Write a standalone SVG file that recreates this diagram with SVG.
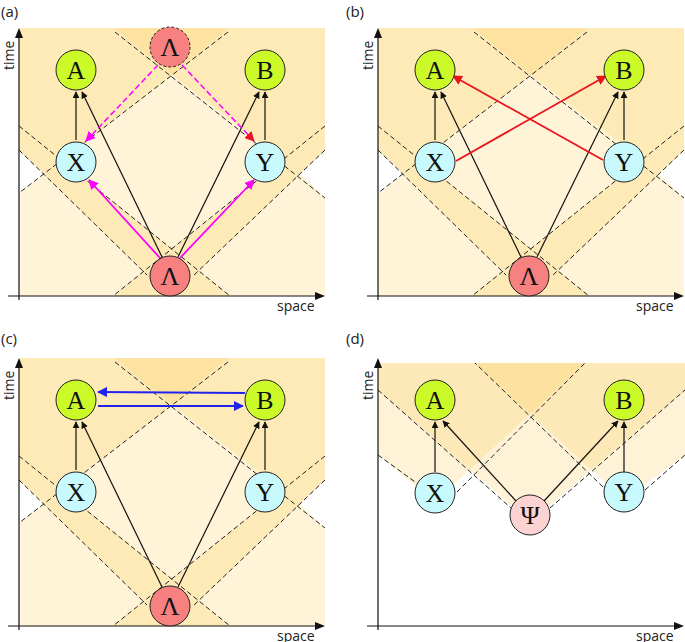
<svg xmlns="http://www.w3.org/2000/svg" width="685" height="642" viewBox="0 0 685 642">
<style>
.lbl{font-family:"Open Sans","Liberation Sans",sans-serif;font-size:15px;fill:#222}
.ax{font-family:"Open Sans","Liberation Sans",sans-serif;font-size:14px;fill:#222}
.nt{font-family:"Liberation Serif",serif;font-size:26px;text-anchor:middle;fill:#111}
.dash{stroke:#222;stroke-width:1;stroke-dasharray:5,3;fill:none}
.axis{stroke:#111;stroke-width:1.2;fill:none}
.arr{stroke:#111;stroke-width:1.2;fill:none}
.n{stroke:#222;stroke-width:1}
.g{fill:#ccfa28}.c{fill:#c8fafd}.r{fill:#f78080}.p{fill:#fcd2d2}
.L{fill:#fff4d8}.M{fill:#feeab6}.D{fill:#fde2a0}
</style>
<defs>
<marker id="mk" viewBox="0 0 10 10" refX="9" refY="5" markerWidth="7" markerHeight="7" orient="auto" markerUnits="userSpaceOnUse"><path d="M0,0L10,5L0,10z" fill="#111"/></marker>
<marker id="mm" viewBox="0 0 10 10" refX="9" refY="5" markerWidth="10" markerHeight="10" orient="auto" markerUnits="userSpaceOnUse"><path d="M0,0L10,5L0,10z" fill="#ff00ff"/></marker>
<marker id="mr" viewBox="0 0 10 10" refX="9" refY="5" markerWidth="10" markerHeight="10" orient="auto" markerUnits="userSpaceOnUse"><path d="M0,0L10,5L0,10z" fill="#e8141e"/></marker>
<marker id="mb" viewBox="0 0 10 10" refX="9" refY="5" markerWidth="10" markerHeight="10" orient="auto" markerUnits="userSpaceOnUse"><path d="M0,0L10,5L0,10z" fill="#2222ee"/></marker>
<g id="bg">
<rect class="L" x="19" y="28" width="306" height="268"/>
<polygon class="M" points="19,28 325,28 325,132 283,160 172,75 61,160 19,143"/>
<polygon class="D" points="115,28 228,28 172,75"/>
<polygon class="M" points="19,126 172,249 147,275 19,150"/>
<polygon class="M" points="325,126 172,249 192,277 325,150"/>
<polygon class="M" points="113,296 172,249 230,296"/>
<polygon fill="#fff" points="19,150 19,193 44,174"/>
<polygon fill="#fff" points="325,150 325,198 300,174"/>
</g>
<g id="lines">
<path class="dash" d="M115,32L325,198M228,32L19,193M19,126L230,296M19,150L147,275M325,126L113,296M325,150L192,277"/>
</g>
<g id="axes">
<path class="axis" d="M19,300V30M8,296H323"/>
<path d="M19,28l-4,10h8z M325,296l-10,-4v8z" fill="#111"/>
<text class="ax" x="277" y="311">space</text>
<text class="ax" transform="translate(14,70) rotate(-90)">time</text>
</g>
</defs>

<g id="panel-a">
<text class="lbl" x="1" y="17">(a)</text>
<use href="#bg"/><use href="#lines"/><use href="#axes"/>
<g id="conn-a">
<path class="arr" d="M76,140V92" marker-end="url(#mk)"/>
<path class="arr" d="M162,257L82,92" marker-end="url(#mk)"/>
<path class="arr" d="M178,257L259,92" marker-end="url(#mk)"/>
<path class="arr" d="M265,140V92" marker-end="url(#mk)"/>
<path d="M160,258L89,180" stroke="#ff00ff" stroke-width="1.8" marker-end="url(#mm)"/>
<path d="M180,258L254,180" stroke="#ff00ff" stroke-width="1.8" marker-end="url(#mm)"/>
<path d="M158,65L86,141" stroke="#ff00ff" stroke-width="1.5" stroke-dasharray="6,3" marker-end="url(#mm)"/>
<path d="M182,65L254,141" stroke="#ff00ff" stroke-width="1.5" stroke-dasharray="6,3" marker-end="url(#mr)"/>
</g>
<g id="a-A"><circle class="n g" cx="76" cy="70" r="20"/><text class="nt" x="76" y="79">A</text></g>
<g id="a-B"><circle class="n g" cx="265" cy="70" r="20"/><text class="nt" x="265" y="79">B</text></g>
<g id="a-X"><circle class="n c" cx="76" cy="162" r="20"/><text class="nt" x="76" y="171">X</text></g>
<g id="a-Y"><circle class="n c" cx="265" cy="162" r="20"/><text class="nt" x="265" y="171">Y</text></g>
<g id="a-L"><circle class="n r" cx="170" cy="276" r="20"/><text class="nt" x="170" y="285">Λ</text></g>
<g id="a-L2"><circle class="n r" cx="170" cy="47" r="20" stroke-dasharray="3,2"/><text class="nt" x="170" y="56">Λ</text></g>
</g>

<g id="panel-b" transform="translate(359,0)">
<text class="lbl" x="-13" y="17">(b)</text>
<use href="#bg"/><use href="#lines"/><use href="#axes"/>
<g id="conn-b">
<path class="arr" d="M76,140V92" marker-end="url(#mk)"/>
<path class="arr" d="M162,257L82,92" marker-end="url(#mk)"/>
<path class="arr" d="M178,257L259,92" marker-end="url(#mk)"/>
<path class="arr" d="M265,140V92" marker-end="url(#mk)"/>
<path d="M97,161L247,76" stroke="#e8141e" stroke-width="1.8" marker-end="url(#mr)"/>
<path d="M244,160L94,76" stroke="#e8141e" stroke-width="1.8" marker-end="url(#mr)"/>
</g>
<g id="b-A"><circle class="n g" cx="76" cy="70" r="20"/><text class="nt" x="76" y="79">A</text></g>
<g id="b-B"><circle class="n g" cx="265" cy="70" r="20"/><text class="nt" x="265" y="79">B</text></g>
<g id="b-X"><circle class="n c" cx="76" cy="162" r="20"/><text class="nt" x="76" y="171">X</text></g>
<g id="b-Y"><circle class="n c" cx="265" cy="162" r="20"/><text class="nt" x="265" y="171">Y</text></g>
<g id="b-L"><circle class="n r" cx="170" cy="276" r="20"/><text class="nt" x="170" y="285">Λ</text></g>
</g>

<g id="panel-c" transform="translate(0,330)">
<text class="lbl" x="1" y="14">(c)</text>
<use href="#bg"/><use href="#lines"/><use href="#axes"/>
<g id="conn-c">
<path class="arr" d="M76,140V92" marker-end="url(#mk)"/>
<path class="arr" d="M162,257L82,92" marker-end="url(#mk)"/>
<path class="arr" d="M178,257L259,92" marker-end="url(#mk)"/>
<path class="arr" d="M265,140V92" marker-end="url(#mk)"/>
<path d="M245,63L98,62" stroke="#2222ee" stroke-width="1.8" marker-end="url(#mb)"/>
<path d="M98,76L243,76" stroke="#2222ee" stroke-width="1.8" marker-end="url(#mb)"/>
</g>
<g id="c-A"><circle class="n g" cx="76" cy="70" r="20"/><text class="nt" x="76" y="79">A</text></g>
<g id="c-B"><circle class="n g" cx="265" cy="70" r="20"/><text class="nt" x="265" y="79">B</text></g>
<g id="c-X"><circle class="n c" cx="76" cy="162" r="20"/><text class="nt" x="76" y="171">X</text></g>
<g id="c-Y"><circle class="n c" cx="265" cy="162" r="20"/><text class="nt" x="265" y="171">Y</text></g>
<g id="c-L"><circle class="n r" cx="170" cy="276" r="20"/><text class="nt" x="170" y="285">Λ</text></g>
</g>

<g id="panel-d" transform="translate(359,330)">
<text class="lbl" x="-13" y="14">(d)</text>
<g id="d-bg">
<polygon fill="#fbc94a" fill-opacity="0.22" points="19,125 76,172 226,33 19,33"/>
<polygon fill="#fbc94a" fill-opacity="0.22" points="19,60 171,192 326,60 326,33 19,33"/>
<polygon fill="#fbc94a" fill-opacity="0.22" points="116,33 265,170 326,125 326,33"/>
</g>
<path class="dash" d="M19,125L70,162M98,162L226,33M19,60L152,178M191,178L326,60M244,157L116,33M286,160L326,125"/>
<use href="#axes"/>
<g id="conn-d">
<path class="arr" d="M76,142V92" marker-end="url(#mk)"/>
<path class="arr" d="M157,171L84,91" marker-end="url(#mk)"/>
<path class="arr" d="M185,171L259,91" marker-end="url(#mk)"/>
<path class="arr" d="M265,142V92" marker-end="url(#mk)"/>
</g>
<g id="d-A"><circle class="n g" cx="76" cy="70" r="20"/><text class="nt" x="76" y="79">A</text></g>
<g id="d-B"><circle class="n g" cx="265" cy="70" r="20"/><text class="nt" x="265" y="79">B</text></g>
<g id="d-X"><circle class="n c" cx="76" cy="163" r="20"/><text class="nt" x="76" y="172">X</text></g>
<g id="d-Y"><circle class="n c" cx="265" cy="162" r="20"/><text class="nt" x="265" y="171">Y</text></g>
<g id="d-P"><circle class="n p" cx="171" cy="185" r="20"/><text class="nt" x="171" y="194">Ψ</text></g>
</g>
</svg>
